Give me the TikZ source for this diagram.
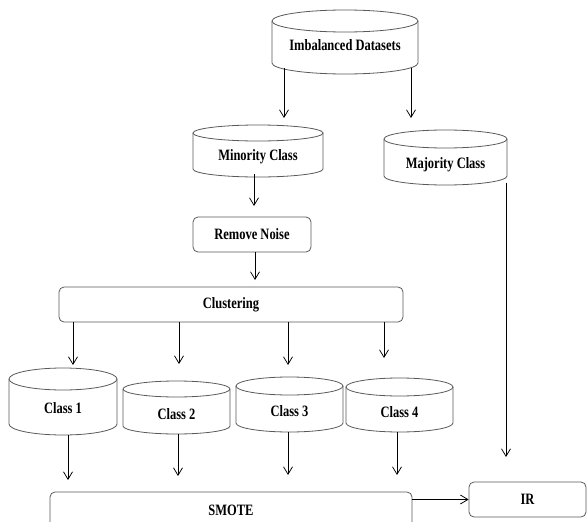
\documentclass[tikz,border=0pt]{standalone}
\usepackage{fontspec}
\setmainfont{Liberation Serif}[FakeStretch=0.79]
\usetikzlibrary{arrows.meta}
\tikzset{
  cyl/.style={draw=black!65, line width=0.8pt},
  boxst/.style={draw=black!65, line width=0.8pt, rounded corners=5pt, inner sep=0pt},
  lbl/.style={font=\fontsize{15.8}{17}\selectfont\bfseries, inner sep=0pt},
  arr/.style={draw=black, line width=0.75pt, -{Straight Barb[length=7.5pt,width=9pt]}}
}
\newcommand\dbcyl[8]{%
  \pgfmathsetmacro\cylcx{(#2+#3)/2}\pgfmathsetmacro\cylrx{(#3-#2)/2}%
  \pgfmathsetmacro\cylya{-(#4+#6)}\pgfmathsetmacro\cylyb{-(#5-#6)}%
  \pgfmathsetmacro\cylcy{-(#4+#5)/2}\pgfmathsetmacro\cylhh{#5-#4}\pgfmathsetmacro\cylww{#3-#2}%
  \node[inner sep=0pt, minimum width=\cylww pt, minimum height=\cylhh pt] (#1) at (\cylcx,\cylcy) {};
  \draw[cyl] (#2,\cylya) -- (#2,\cylyb) arc[start angle=180, end angle=360, x radius=\cylrx pt, y radius=#6 pt] -- (#3,\cylya);
  \draw[cyl] (\cylcx,\cylya) ellipse[x radius=\cylrx pt, y radius=#6 pt];
  \node[lbl] (#1-l) at (\cylcx,-#7) {#8};
}
\newcommand\rbox[6]{%
  \pgfmathsetmacro\bxcx{(#2+#3)/2}\pgfmathsetmacro\bxcy{-(#4+#5)/2}%
  \pgfmathsetmacro\bxw{#3-#2}\pgfmathsetmacro\bxh{#5-#4}%
  \node[boxst, lbl, minimum width=\bxw pt, minimum height=\bxh pt] (#1) at (\bxcx,\bxcy) {#6};
}
\begin{document}
\begin{tikzpicture}[x=1pt, y=1pt]
\useasboundingbox (0,0) rectangle (587,-522);
\clip (0,0) rectangle (587,-522);

\dbcyl{imb}{272}{418}{10}{74}{11}{45}{Imbalanced Datasets}
\dbcyl{min}{193}{323}{125}{177}{8}{157}{Minority Class}
\dbcyl{maj}{384}{507}{130}{185}{9}{165}{Majority Class}
\dbcyl{ca}{9}{117}{368}{435}{11}{408}{Class 1}
\dbcyl{cb}{123}{230}{381}{434}{8}{414}{Class 2}
\dbcyl{cc}{236}{343}{377}{432}{9}{411}{Class 3}
\dbcyl{cd}{346}{453}{378}{432}{9}{412}{Class 4}

\rbox{rn}{193}{311}{217}{252}{Remove Noise}
\rbox{clu}{59}{403}{287}{322}{Clustering}
\rbox{smote}{50}{412}{492}{528}{SMOTE}
\rbox{ir}{469}{586}{482}{517}{IR}

\coordinate (e1) at (284,-118);
\coordinate (e2) at (411,-118);
\coordinate (e3) at (254,-206);
\coordinate (e4) at (255,-280);
\coordinate (e5) at (73,-365);
\coordinate (e6) at (179,-364);
\coordinate (e7) at (288,-365);
\coordinate (e8) at (384,-358);
\coordinate (e9) at (68,-480);
\coordinate (e10) at (178,-476);
\coordinate (e11) at (288,-475);
\coordinate (e12) at (397,-475);
\coordinate (e13) at (506,-457);

\draw[arr] ([yshift=6pt]imb.south -| e1) -- (e1);
\draw[arr] ([yshift=6pt]imb.south -| e2) -- (e2);
\draw[arr] ([yshift=3pt]min.south -| e3) -- (e3);
\draw[arr] (rn.south -| e4) -- (e4);
\draw[arr] (clu.south -| e5) -- (e5);
\draw[arr] (clu.south -| e6) -- (e6);
\draw[arr] (clu.south -| e7) -- (e7);
\draw[arr] (clu.south -| e8) -- (e8);
\draw[arr] (ca.south -| e9) -- (e9);
\draw[arr] (cb.south -| e10) -- (e10);
\draw[arr] (cc.south -| e11) -- (e11);
\draw[arr] (cd.south -| e12) -- (e12);
\draw[arr] ([yshift=2pt]maj.south -| e13) -- (e13);
\draw[arr] (smote.east |- ir.west) -- (ir.west);
\end{tikzpicture}
\end{document}
